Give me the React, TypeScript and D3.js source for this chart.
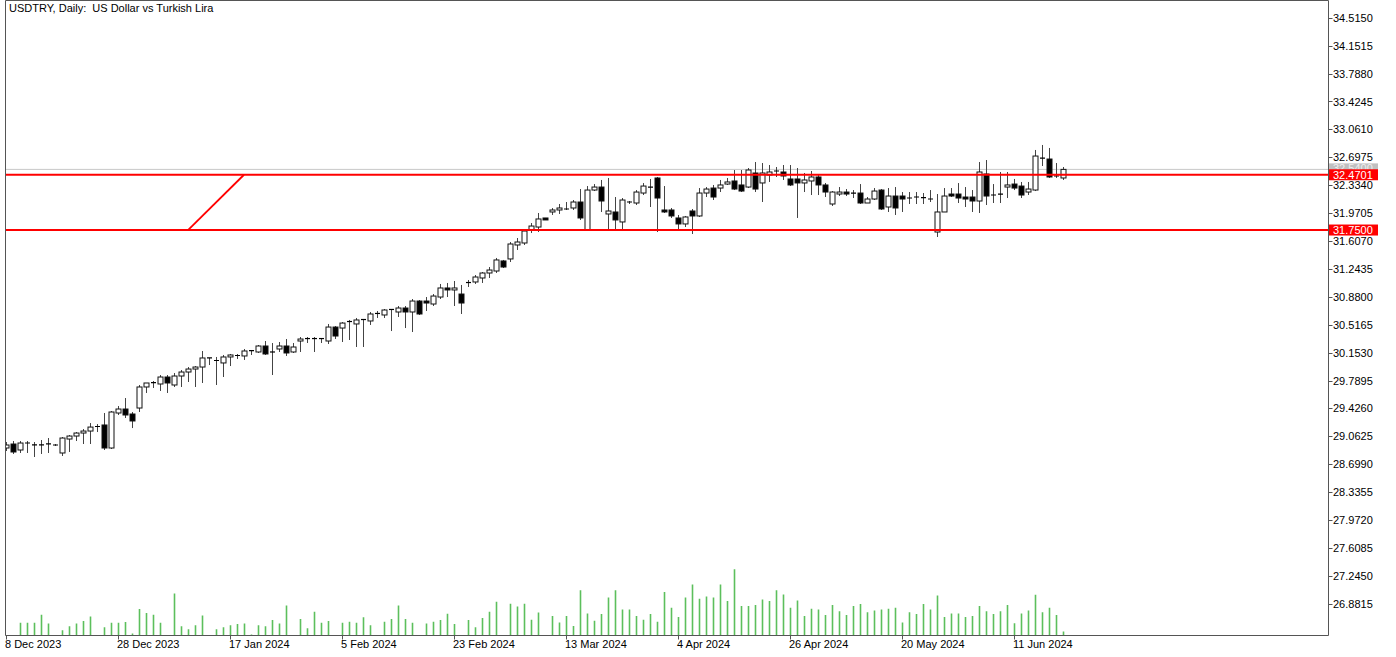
import React from "react";
import * as d3 from "d3";

const opens = [28.910,28.962,28.884,28.962,28.945,28.952,28.958,28.949,28.845,29.027,29.066,29.105,29.131,29.183,29.210,28.910,29.366,29.418,29.353,29.431,29.705,29.757,29.744,29.835,29.731,29.848,29.900,29.939,29.965,30.083,30.044,30.018,30.096,30.109,30.109,30.174,30.161,30.239,30.148,30.200,30.239,30.161,30.304,30.330,30.336,30.330,30.304,30.486,30.473,30.551,30.526,30.578,30.565,30.656,30.643,30.708,30.682,30.734,30.682,30.825,30.825,30.786,30.877,30.995,30.969,30.916,31.060,31.073,31.125,31.190,31.216,31.347,31.373,31.555,31.581,31.750,31.789,31.907,31.985,32.011,32.024,32.037,32.115,31.750,32.271,32.310,31.959,31.985,31.855,32.115,32.102,32.232,32.310,32.428,32.011,32.011,31.907,31.829,31.998,31.933,32.232,32.297,32.297,32.349,32.389,32.337,32.310,32.493,32.363,32.467,32.506,32.506,32.415,32.415,32.363,32.389,32.441,32.337,32.089,32.219,32.245,32.232,32.232,32.102,32.154,32.271,32.050,32.193,32.193,32.167,32.180,32.167,32.154,31.724,31.985,32.219,32.219,32.180,32.180,32.128,32.480,32.206,32.219,32.310,32.349,32.323,32.245,32.271,32.688,32.675,32.441,32.428];
const highs = [28.988,29.001,29.001,29.001,28.988,29.014,29.040,28.962,29.053,29.079,29.118,29.157,29.235,29.222,29.366,29.392,29.457,29.561,29.379,29.731,29.757,29.783,29.861,29.861,29.887,29.926,29.965,29.978,30.174,30.083,30.096,30.122,30.135,30.135,30.200,30.187,30.252,30.304,30.278,30.291,30.330,30.278,30.356,30.356,30.356,30.343,30.526,30.499,30.551,30.578,30.604,30.591,30.682,30.695,30.721,30.721,30.760,30.760,30.851,30.838,30.877,30.916,31.047,31.060,31.086,31.034,31.099,31.164,31.203,31.268,31.386,31.360,31.594,31.646,31.763,31.841,31.972,31.907,32.037,32.089,32.115,32.141,32.284,32.323,32.349,32.402,32.428,32.180,32.167,32.128,32.271,32.362,32.415,32.441,32.323,32.037,31.946,31.933,32.024,32.297,32.310,32.337,32.402,32.428,32.532,32.532,32.558,32.636,32.623,32.597,32.571,32.597,32.597,32.558,32.493,32.519,32.467,32.363,32.258,32.310,32.284,32.271,32.349,32.180,32.297,32.284,32.297,32.310,32.245,32.245,32.245,32.232,32.271,32.219,32.297,32.297,32.362,32.310,32.271,32.636,32.662,32.349,32.506,32.506,32.415,32.376,32.376,32.793,32.858,32.819,32.623,32.571];
const lows = [28.871,28.832,28.845,28.845,28.793,28.832,28.845,28.936,28.806,28.858,29.001,28.962,28.962,29.118,28.884,28.897,29.340,29.301,29.170,29.379,29.627,29.692,29.653,29.627,29.705,29.705,29.770,29.705,29.757,29.991,29.731,29.835,29.978,30.070,30.057,30.122,30.148,30.122,29.861,30.161,30.109,30.148,30.161,30.278,30.161,30.278,30.265,30.330,30.291,30.317,30.226,30.226,30.513,30.604,30.604,30.434,30.617,30.473,30.421,30.643,30.695,30.760,30.851,30.877,30.760,30.656,31.008,31.047,31.060,31.125,31.190,31.255,31.333,31.490,31.555,31.711,31.724,31.881,31.946,31.959,32.011,32.011,31.881,31.750,32.258,31.985,31.750,31.750,31.750,32.089,32.076,32.206,32.050,31.724,31.972,31.907,31.763,31.789,31.698,31.920,32.180,32.141,32.245,32.337,32.271,32.245,32.297,32.245,32.115,32.376,32.441,32.402,32.323,31.907,32.245,32.206,32.206,32.180,32.063,32.193,32.193,32.167,32.089,32.102,32.141,32.011,31.985,31.946,31.985,32.089,32.089,32.089,32.115,31.659,31.985,32.180,32.102,32.050,31.985,31.972,32.076,32.102,32.102,32.167,32.271,32.167,32.206,32.258,32.584,32.428,32.428,32.402];
const closes = [28.949,28.858,28.975,28.975,28.952,28.945,28.965,28.949,29.040,29.066,29.105,29.131,29.183,29.190,28.910,29.379,29.418,29.340,29.262,29.705,29.757,29.763,29.835,29.757,29.848,29.900,29.939,29.965,30.083,30.077,30.050,30.096,30.122,30.115,30.174,30.180,30.239,30.135,30.161,30.239,30.148,30.226,30.330,30.336,30.330,30.336,30.486,30.369,30.538,30.558,30.578,30.584,30.656,30.663,30.708,30.715,30.734,30.682,30.825,30.656,30.799,30.890,30.995,30.969,30.995,30.799,31.066,31.138,31.190,31.229,31.360,31.268,31.568,31.594,31.737,31.802,31.894,31.881,32.011,32.037,32.011,32.115,31.907,32.271,32.310,32.128,31.998,31.881,32.141,32.102,32.245,32.323,32.297,32.167,31.985,31.933,31.829,31.920,31.933,32.232,32.284,32.180,32.337,32.376,32.284,32.258,32.532,32.284,32.493,32.506,32.519,32.454,32.337,32.363,32.402,32.441,32.337,32.245,32.245,32.245,32.219,32.219,32.102,32.154,32.258,32.024,32.193,32.037,32.154,32.160,32.173,32.173,32.148,31.985,32.193,32.193,32.167,32.154,32.128,32.506,32.193,32.193,32.206,32.337,32.297,32.206,32.284,32.714,32.675,32.441,32.454,32.540];
const volumes = [0,0,128,128,128,207,120,0,52,93,120,145,190,0,83,128,128,134,20,265,224,207,128,0,420,93,62,103,200,0,62,83,103,114,120,10,103,93,155,120,300,0,165,72,238,128,145,0,128,138,128,183,103,0,138,165,300,165,128,0,120,138,155,217,114,0,155,83,176,238,338,0,317,290,317,157,230,0,196,130,196,95,453,221,147,214,379,453,260,260,196,158,214,137,435,277,186,379,509,368,389,379,509,344,663,295,295,305,361,344,453,410,277,351,196,267,260,204,305,242,204,295,316,232,249,260,267,277,130,232,214,316,260,400,186,221,221,186,196,295,242,214,242,305,123,221,249,407,232,277,204,39];

const priceTicks = [34.5150,34.1515,33.7880,33.4245,33.0610,32.6975,32.3340,31.9705,31.6070,31.2435,30.8800,30.5165,30.1530,29.7895,29.4260,29.0625,28.6990,28.3355,27.9720,27.6085,27.2450,26.8815];
const dateTickIndex = [0,16,32,48,64,80,96,112,128,144];
const dateTickLabels = ["8 Dec 2023","28 Dec 2023","17 Jan 2024","5 Feb 2024","23 Feb 2024","13 Mar 2024","4 Apr 2024","26 Apr 2024","20 May 2024","11 Jun 2024"];
const levelPrices = [32.4701, 31.75];
const levelLabels = ["32.4701", "31.7500"];
const bidPrice = 32.54;
const bidLabel = "32.5400";
const trendFrom = { i: 26, p: 31.75 };
const trendTo = { i: 34, p: 32.4701 };
const title = "USDTRY, Daily:  US Dollar vs Turkish Lira";

const W = 1396, H = 657;
const L = 5.5, R = 1328.5, T = 0.5, B = 635.5;
const FONT = "'Liberation Sans', Arial, sans-serif";

export default function App() {
  const n = opens.length;
  const x = d3.scaleLinear().domain([0, n - 1]).range([6, 6 + 7 * (n - 1)]);
  const y = d3.scaleLinear().domain([26.8815, 34.515]).range([603.7, 17.8]);
  const v = d3.scaleLinear().domain([0, 700]).range([B, B - 70]);
  const bw = 5;

  return (
    <svg width={W} height={H} style={{ position: "absolute", left: 0, top: 0, background: "#fff" }} fontFamily={FONT}>
      <rect x={0} y={0} width={W} height={H} fill="#fff" />
      <defs>
        <clipPath id="plot"><rect x={L} y={T} width={R - L} height={B - T} /></clipPath>
      </defs>
      <g clipPath="url(#plot)">
        <line x1={L} x2={R} y1={y(bidPrice)} y2={y(bidPrice)} stroke="#c8c8c8" strokeWidth={1} />
        {volumes.map((vol, i) => vol > 0 ? (
          <line key={"v" + i} x1={Math.round(x(i)) + 0.5} x2={Math.round(x(i)) + 0.5} y1={B} y2={v(vol)} stroke="#5cbf5c" strokeWidth={1.6} />
        ) : null)}
        {opens.map((o, i) => {
          const c = closes[i];
          const cx = Math.round(x(i)) + 0.5;
          const top = y(Math.max(o, c));
          const bot = y(Math.min(o, c));
          const bull = c >= o;
          const hgt = Math.max(bot - top, 1);
          return (
            <g key={"c" + i}>
              <line x1={cx} x2={cx} y1={y(highs[i])} y2={y(lows[i])} stroke="#444" strokeWidth={1} />
              {hgt <= 1.2 ? (
                <line x1={cx - bw / 2} x2={cx + bw / 2} y1={top} y2={top} stroke="#000" strokeWidth={1.2} />
              ) : (
                <rect x={cx - bw / 2} y={top} width={bw} height={hgt} fill={bull ? "#fff" : "#000"} stroke="#111" strokeWidth={1} />
              )}
            </g>
          );
        })}
        {levelPrices.map((p, k) => (
          <line key={"l" + k} x1={L} x2={R} y1={y(p)} y2={y(p)} stroke="#ff0000" strokeWidth={2} />
        ))}
        <line x1={x(trendFrom.i)} y1={y(trendFrom.p)} x2={x(trendTo.i)} y2={y(trendTo.p)} stroke="#ff0000" strokeWidth={1.8} />
      </g>

      <line x1={L} x2={R} y1={T} y2={T} stroke="#555" strokeWidth={1} />
      <line x1={L} x2={L} y1={T} y2={B} stroke="#555" strokeWidth={1} />
      <line x1={R} x2={R} y1={T} y2={B} stroke="#555" strokeWidth={1} />
      <line x1={L} x2={R} y1={B} y2={B} stroke="#555" strokeWidth={1} />

      <text x={9} y={12} fontSize={11} fill="#000" style={{ whiteSpace: "pre" }}>{title}</text>

      {priceTicks.map((p, k) => (
        <g key={"p" + k}>
          <line x1={R} x2={R + 4} y1={Math.round(y(p)) + 0.5} y2={Math.round(y(p)) + 0.5} stroke="#555" />
          <text x={1333} y={y(p) + 4} fontSize={11} fill="#000">{p.toFixed(4)}</text>
        </g>
      ))}
      <rect x={R + 0.5} y={y(bidPrice) - 6} width={49} height={11} fill="#c0c0c0" />
      <text x={1333} y={y(bidPrice) + 3} fontSize={11} fill="#eee">{bidLabel}</text>
      {levelPrices.map((p, k) => (
        <g key={"lb" + k}>
          <rect x={R + 0.5} y={y(p) - 5.5} width={49} height={11} fill="#ff0000" />
          <text x={1333} y={y(p) + 4} fontSize={11} fill="#fff">{levelLabels[k]}</text>
        </g>
      ))}

      {dateTickIndex.map((i, k) => (
        <g key={"d" + k}>
          <line x1={Math.round(x(i)) + 0.5} x2={Math.round(x(i)) + 0.5} y1={B} y2={B + 4} stroke="#555" />
          <text x={Math.round(x(i)) - 1} y={648} fontSize={11} fill="#000">{dateTickLabels[k]}</text>
        </g>
      ))}
    </svg>
  );
}
